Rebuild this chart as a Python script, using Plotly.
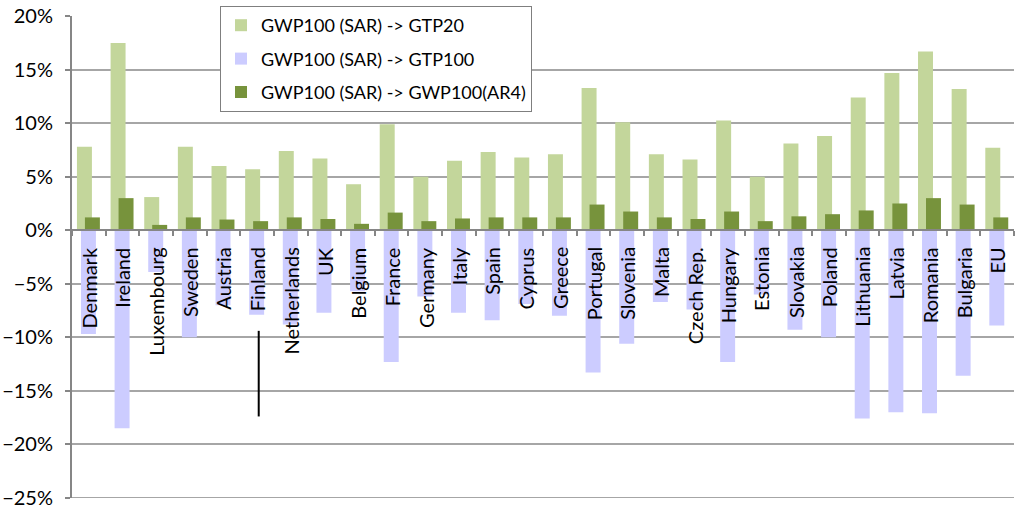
import plotly.graph_objects as go

countries = ["Denmark", "Ireland", "Luxembourg", "Sweden", "Austria", "Finland",
             "Netherlands", "UK", "Belgium", "France", "Germany", "Italy", "Spain",
             "Cyprus", "Greece", "Portugal", "Slovenia", "Malta", "Czech Rep.",
             "Hungary", "Estonia", "Slovakia", "Poland", "Lithuania", "Latvia",
             "Romania", "Bulgaria", "EU"]

# Percentage change in emissions when switching metric
gtp20 = [7.8, 17.5, 3.1, 7.8, 6.0, 5.7, 7.4, 6.7, 4.3, 9.9, 5.0, 6.5, 7.3,
         6.8, 7.1, 13.3, 10.1, 7.1, 6.6, 10.25, 5.0, 8.1, 8.8, 12.4, 14.7,
         16.7, 13.2, 7.7]
gtp100 = [-9.7, -18.5, -3.9, -10.0, -7.0, -7.9, -8.8, -7.7, -5.7, -12.3, -6.2,
          -7.7, -8.4, -6.9, -8.0, -13.3, -10.6, -6.7, -7.4, -12.3, -6.0, -9.3,
          -10.0, -17.6, -17.0, -17.1, -13.6, -8.9]
gwp100_ar4 = [1.2, 3.0, 0.5, 1.2, 1.0, 0.85, 1.2, 1.05, 0.6, 1.65, 0.85, 1.1,
              1.2, 1.2, 1.2, 2.4, 1.75, 1.2, 1.05, 1.75, 0.85, 1.3, 1.5, 1.85,
              2.5, 3.0, 2.4, 1.2]

series = [
    ("GWP100 (SAR) -> GTP20", gtp20, "#c3d69b", -0.353),
    ("GWP100 (SAR) -> GTP100", gtp100, "#ccccff", -0.234),
    ("GWP100 (SAR) -> GWP100(AR4)", gwp100_ar4, "#77933c", -0.116),
]

FONT = "Lato, Carlito, 'Open Sans', sans-serif"
AXIS_GREY = "#868686"
GRID_GREY = "#a6a6a6"

fig = go.Figure()
for i, (name, vals, color, off) in enumerate(series):
    fig.add_trace(go.Bar(
        x=countries, y=vals, name=name, legendgroup=str(i),
        marker=dict(color=color, line=dict(width=0)),
        width=0.445, offset=off,
    ))

# Country names hang just below the zero line, reading upwards
for c in countries:
    fig.add_annotation(
        x=c, y=0, xref="x", yref="y", text=c, showarrow=False,
        textangle=-90, xanchor="center", yanchor="top", yshift=-15,
        font=dict(family=FONT, size=20, color="black"),
    )

# Marker line drawn below the Finland label
marker_line_y = (-9.4, -17.4)
fin = countries.index("Finland")
fig.add_shape(type="line", xref="x", yref="y",
              x0=fin + 0.05, x1=fin + 0.05,
              y0=marker_line_y[0], y1=marker_line_y[1],
              line=dict(color="black", width=2))

y_min, y_max = -25, 20
eps = 0.02

# Bottom gridline at the lower end of the value axis
fig.add_shape(type="line", xref="paper", yref="y", x0=0, x1=1,
              y0=y_min, y1=y_min, line=dict(color=GRID_GREY, width=1.5),
              layer="below")

fig.update_layout(
    width=1015, height=505,
    margin=dict(l=72, r=1, t=16, b=7, autoexpand=False),
    paper_bgcolor="white", plot_bgcolor="white",
    barmode="overlay",
    font=dict(family=FONT, color="black"),
    showlegend=True,
    legend=dict(
        x=(220 - 72) / 942, y=1 + 10 / 482, xanchor="left", yanchor="top",
        bgcolor="white", bordercolor="#7f7f7f", borderwidth=1,
        font=dict(family=FONT, size=18, color="black"),
        traceorder="grouped", tracegroupgap=7,
    ),
    xaxis=dict(
        type="category", range=[-0.5, len(countries) - 0.5],
        anchor="free", position=(0 - (y_min - eps)) / (y_max - y_min + 2 * eps),
        showline=True, linecolor=AXIS_GREY, linewidth=2,
        ticks="outside", ticklen=5, tickcolor=AXIS_GREY, tickwidth=1.5,
        tickson="boundaries", showticklabels=False,
        showgrid=False, layer="above traces", automargin=False,
    ),
    yaxis=dict(
        range=[y_min - eps, y_max + eps], dtick=5, tick0=0, ticksuffix="%",
        showgrid=True, gridcolor=GRID_GREY, gridwidth=1.5,
        showline=True, linecolor=AXIS_GREY, linewidth=2,
        ticks="outside", ticklen=5, tickcolor=AXIS_GREY, tickwidth=1.5,
        zeroline=False, ticklabelstandoff=8, ticklabeloverflow="allow",
        automargin=False,
        tickfont=dict(family=FONT, size=20, color="black"),
    ),
)

fig.write_html("out.html")
